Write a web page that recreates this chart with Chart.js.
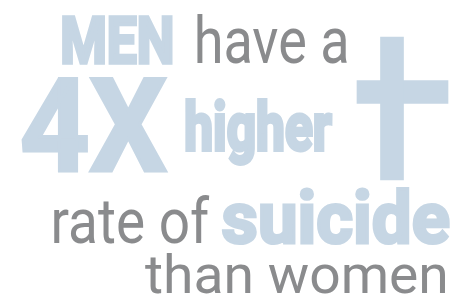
<!DOCTYPE html>
<html lang="en">
<head>
    <meta charset="UTF-8">
    <title>Men have a 4X higher rate of suicide than women</title>
    <script src="https://cdn.jsdelivr.net/npm/chart.js"></script>
    <style>
        body { margin: 0; padding: 0; background: #fff; }
        #wrap { width: 457px; height: 306px; }
    </style>
</head>
<body>
    <div id="wrap">
        <canvas id="infoChart" width="457" height="306"></canvas>
    </div>
    <script>
        // data (chart units, 0..457 across, 0..306 down)
        const words = ['MEN', 'have a', '4X', 'higher', 'rate of', 'suicide', 'than women'];
        const emphasis = [true, false, true, true, false, true, false];
        const crossPost = [{ x: 403.5, y: [37, 180] }];
        const crossBeam = [{ y: 80.5, x: [357, 448] }];

        const BLUE = '#c6d6e4';
        const GREY = '#8a8b8d';

        // where each word sits: left, right, top of ink, baseline
        const wordBoxes = [
            [62, 173, 15, 63],
            [197, 347, 14, 63],
            [21, 168, 76, 171],
            [185, 333, 99, 150],
            [54, 210, 195, 243],
            [221, 450, 186, 243],
            [145, 446, 252, 293]
        ];

        const heavyFont = '"Liberation Sans Narrow", Roboto, "Liberation Sans", sans-serif';
        const lightFont = 'Roboto, "Liberation Sans", sans-serif';

        const wordPlugin = {
            id: 'words',
            afterDatasetsDraw(chart) {
                const ctx = chart.ctx;
                const xs = chart.scales.x, ys = chart.scales.y;
                words.forEach((w, i) => {
                    const [l, r, t, b] = wordBoxes[i];
                    const heavy = emphasis[i];
                    // stroke thickens the heavy words, so leave room for it
                    const pad = heavy ? 1.5 : 0;
                    const left = xs.getPixelForValue(l) + pad, right = xs.getPixelForValue(r) - pad;
                    const top = ys.getPixelForValue(t) + pad, base = ys.getPixelForValue(b);
                    const weight = heavy ? 'bold' : 'normal';
                    const family = heavy ? heavyFont : lightFont;
                    ctx.save();
                    ctx.font = weight + ' 100px ' + family;
                    let m = ctx.measureText(w);
                    const size = 100 * (base - top) / m.actualBoundingBoxAscent;
                    ctx.font = weight + ' ' + size + 'px ' + family;
                    m = ctx.measureText(w);
                    const inkW = m.actualBoundingBoxLeft + m.actualBoundingBoxRight;
                    const sx = (right - left) / inkW;
                    ctx.translate(left, base);
                    ctx.scale(sx, 1);
                    ctx.fillStyle = heavy ? BLUE : GREY;
                    ctx.textBaseline = 'alphabetic';
                    ctx.fillText(w, m.actualBoundingBoxLeft, 0);
                    if (heavy) {
                        ctx.strokeStyle = BLUE;
                        ctx.lineJoin = 'miter';
                        ctx.lineWidth = 3 / sx;
                        ctx.strokeText(w, m.actualBoundingBoxLeft, 0);
                    }
                    ctx.restore();
                });
            }
        };

        const hiddenAxis = (min, max, reverse) => ({
            type: 'linear', min: min, max: max, reverse: reverse,
            offset: false, display: false
        });

        new Chart(document.getElementById('infoChart'), {
            type: 'bar',
            data: {
                datasets: [{
                    label: 'cross post',
                    data: crossPost,
                    indexAxis: 'x',
                    xAxisID: 'x',
                    yAxisID: 'y',
                    backgroundColor: BLUE,
                    barThickness: 23
                }, {
                    label: 'cross beam',
                    data: crossBeam,
                    indexAxis: 'y',
                    xAxisID: 'x2',
                    yAxisID: 'y2',
                    backgroundColor: BLUE,
                    barThickness: 23
                }]
            },
            options: {
                responsive: false,
                animation: false,
                layout: { padding: 0 },
                plugins: { legend: { display: false }, tooltip: { enabled: false } },
                scales: {
                    x: hiddenAxis(0, 457, false),
                    y: hiddenAxis(0, 306, true),
                    x2: hiddenAxis(0, 457, false),
                    y2: hiddenAxis(0, 306, true)
                }
            },
            plugins: [wordPlugin]
        });
    </script>
</body>
</html>
